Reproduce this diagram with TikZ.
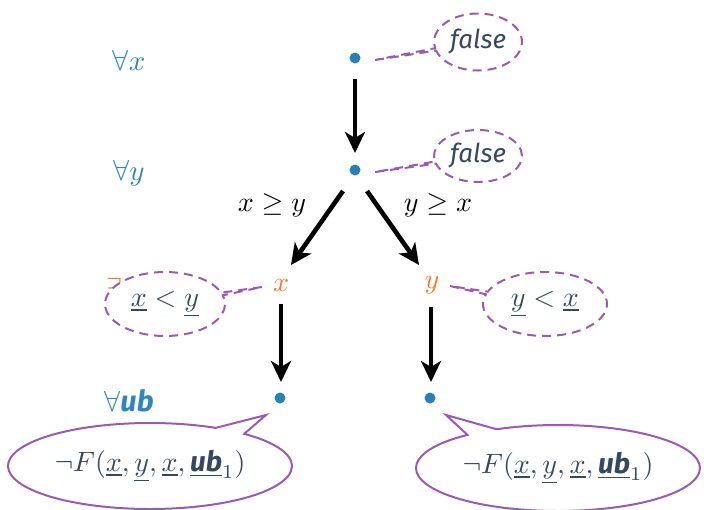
\documentclass[tikz,border=0pt]{standalone}
\usepackage{graphicx}
\usepackage{fontspec}
\setsansfont{Fira Sans}
\usetikzlibrary{arrows.meta,shapes.callouts}
\definecolor{dotblue}{RGB}{41,128,185}
\definecolor{lblblue}{RGB}{46,134,193}
\definecolor{orng}{RGB}{245,120,40}
\definecolor{purp}{RGB}{155,89,182}
\definecolor{slate}{RGB}{52,73,94}
\newcommand{\ubb}{\mbox{\sffamily\bfseries\itshape ub}}
\newcommand{\bigtxt}[1]{\scalebox{2.8}{#1}}
\newcommand{\qtxt}[1]{\scalebox{2.9}{#1}}
\newcommand{\ftxt}[1]{\scalebox{2.6}{#1}}
\tikzset{
  dotnode/.style={circle,fill=dotblue,inner sep=0pt,minimum size=11pt},
  quant/.style={text=lblblue},
  var/.style={text=orng},
  elbl/.style={text=black},
  bigarrow/.style={line width=4.6pt,-{Stealth[length=21pt,width=20pt,inset=6pt]}},
  dcall/.style={ellipse callout,draw=purp,dashed,line width=2pt,dash pattern=on 9pt off 6pt,fill=white,
    text=slate,inner sep=0pt,callout pointer arc=5},
  scall/.style={ellipse callout,draw=purp,line width=2pt,fill=white,
    text=slate,inner sep=0pt,callout pointer arc=14},
}
\begin{document}
\begin{tikzpicture}[x=1pt,y=-1pt]
\useasboundingbox (0,0) rectangle (704,509);
% quantifier labels
\node[quant] (qx) at (129,60) {\qtxt{$\forall x$}};
\node[quant] (qy) at (129,173) {\qtxt{$\forall y$}};
\node[var] (ey) at (122,291) {\qtxt{$\exists y$}};
\node[quant] (qub) at (129,401) {\qtxt{$\forall$\ubb}};
% tree nodes
\node[dotnode] (n1) at (355,58) {};
\node[dotnode] (n2) at (355,170) {};
\node[var] (vx) at (281,285) {\bigtxt{$x$}};
\node[var] (vy) at (432,285) {\bigtxt{$y$}};
\node[dotnode] (n3) at (280,398) {};
\node[dotnode] (n4) at (430,398) {};
% pointer coordinates
\coordinate (p1) at (375,60);
\coordinate (p2) at (375,172);
\coordinate (p3) at (262,287);
\coordinate (p4) at (450,286);
\coordinate (p5) at (266,415);
\coordinate (p6) at (446,415);
% arrows
\coordinate (a1s) at (355,79); \coordinate (a1e) at (355,153);
\draw[bigarrow] (a1s) -- (a1e);
\coordinate (a2s) at (343,191); \coordinate (a2e) at (291,265);
\draw[bigarrow] (a2s) -- (a2e);
\coordinate (a3s) at (367,191); \coordinate (a3e) at (419,265);
\draw[bigarrow] (a3s) -- (a3e);
\coordinate (a4s) at (281,304); \coordinate (a4e) at (281,382);
\draw[bigarrow] (a4s) -- (a4e);
\coordinate (a5s) at (431,307); \coordinate (a5e) at (431,382);
\draw[bigarrow] (a5s) -- (a5e);
\node[elbl] (l1) at (272,205) {\bigtxt{$x \geq y$}};
\node[elbl] (l2) at (438,205) {\bigtxt{$y \geq x$}};
% callouts
\node[dcall,minimum width=88pt,minimum height=57pt,callout absolute pointer={(p1)}] (c1) at (478,42) {\ftxt{\textsf{\itshape false}}};
\node[dcall,minimum width=88pt,minimum height=52pt,callout absolute pointer={(p2)}] (c2) at (478,156) {\ftxt{\textsf{\itshape false}}};
\node[dcall,minimum width=120pt,minimum height=64pt,callout absolute pointer={(p3)}] (c3) at (165,304) {\bigtxt{$\underline{x} < \underline{y}$}};
\node[dcall,minimum width=124pt,minimum height=64pt,callout absolute pointer={(p4)}] (c4) at (545,304) {\bigtxt{$\underline{y} < \underline{x}$}};
\node[scall,minimum width=284pt,minimum height=86pt,callout absolute pointer={(p5)}] (c5) at (150,466) {\bigtxt{$\neg F(\underline{x}, \underline{y}, \underline{x}, \underline{\ubb}_1)$}};
\node[scall,minimum width=284pt,minimum height=86pt,callout absolute pointer={(p6)}] (c6) at (558,468) {\bigtxt{$\neg F(\underline{x}, \underline{y}, \underline{x}, \underline{\ubb}_1)$}};
\end{tikzpicture}
\end{document}
